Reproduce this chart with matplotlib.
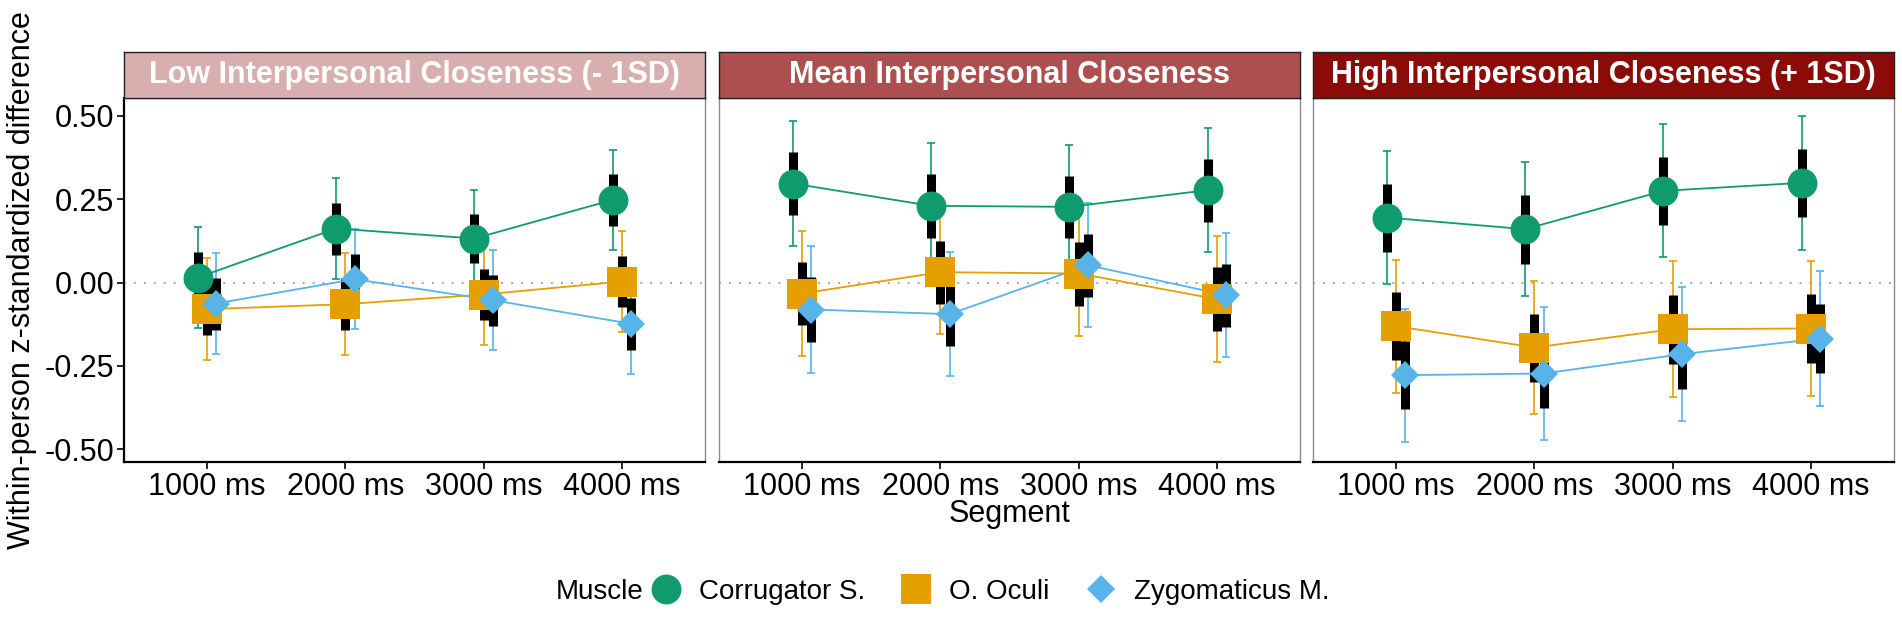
import matplotlib
matplotlib.use("Agg")
import matplotlib.pyplot as plt
from matplotlib.lines import Line2D
import numpy as np

plt.rcParams['font.family'] = ['Liberation Sans', 'DejaVu Sans']

segments = ["1000 ms", "2000 ms", "3000 ms", "4000 ms"]
panels = ["Low Interpersonal Closeness (- 1SD)",
          "Mean Interpersonal Closeness",
          "High Interpersonal Closeness (+ 1SD)"]
strip_colors = ["#d8aeae", "#ad4f4f", "#8b0b08"]

muscles = ["Corrugator S.", "O. Oculi", "Zygomaticus M."]
muscle_colors = ["#0f9b6e", "#e69f00", "#56b4e9"]
muscle_markers = ["o", "s", "D"]
marker_sizes = [21.5, 21.5, 14.5]

# estimates, rows = Corrugator, Oculi, Zygomaticus; cols = segments
est_low = [[0.015, 0.162, 0.132, 0.248],
           [-0.080, -0.065, -0.036, 0.003],
           [-0.063, 0.010, -0.053, -0.124]]
est_mean = [[0.297, 0.230, 0.227, 0.277],
            [-0.033, 0.031, 0.027, -0.050],
            [-0.081, -0.095, 0.052, -0.038]]
est_high = [[0.195, 0.160, 0.275, 0.299],
            [-0.131, -0.195, -0.140, -0.138],
            [-0.278, -0.273, -0.215, -0.168]]

# standard errors (black bars = +-1 SE, coloured bars = 95% CI)
se_low = [[0.077, 0.078, 0.074, 0.077],
          [0.078, 0.078, 0.077, 0.077],
          [0.078, 0.077, 0.077, 0.077]]
se_mean = [[0.095, 0.096, 0.094, 0.095],
           [0.095, 0.095, 0.096, 0.096],
           [0.097, 0.095, 0.095, 0.095]]
se_high = [[0.102, 0.103, 0.102, 0.103],
           [0.102, 0.102, 0.104, 0.103],
           [0.102, 0.102, 0.103, 0.103]]

estimates = [est_low, est_mean, est_high]
errors = [se_low, se_mean, se_high]

dodge = [-0.0667, 0.0, 0.0667]

fig = plt.figure(figsize=(19.02, 6.19), dpi=100)
W, H = 1902.0, 619.0
lefts = [124, 719, 1313]
pw = 581
ptop, pbot = 98, 462
strip_top = 52
fs = 22

x = np.arange(1, len(segments) + 1)

for p in range(3):
    ax = fig.add_axes([lefts[p] / W, 1 - pbot / H, pw / W, (pbot - ptop) / H])
    ax.axhline(0, color="#9a9a9a", lw=1.3, linestyle=(0, (1, 4.5)), zorder=1)
    for m in range(3):
        xs = x + dodge[m]
        est = np.array(estimates[p][m])
        se = np.array(errors[p][m])
        col = muscle_colors[m]
        ax.errorbar(xs, est, yerr=1.96 * se, fmt="none", ecolor=col,
                    elinewidth=1.2, capsize=3, capthick=1.2, zorder=2)
        ax.vlines(xs, est - se, est + se, color="black", lw=6.5, zorder=3)
        ax.plot(xs, est, color=col, lw=1.3, zorder=4)
        ax.plot(xs, est, linestyle="none", marker=muscle_markers[m],
                markersize=marker_sizes[m], color=col, markeredgewidth=0, zorder=5)
    ax.set_xlim(0.4, 4.6)
    ax.set_ylim(-0.5385, 0.5535)
    ax.set_xticks(x)
    ax.set_xticklabels(segments, fontsize=fs)
    ax.set_yticks([-0.5, -0.25, 0, 0.25, 0.5])
    ax.tick_params(axis="both", length=5, width=1.2, color="black", pad=2)
    for side in ["top", "right", "left"]:
        ax.spines[side].set_color("#8c8c8c")
        ax.spines[side].set_linewidth(1.0)
    ax.spines["bottom"].set_color("black")
    ax.spines["bottom"].set_linewidth(1.6)
    if p == 0:
        ax.set_yticklabels(["-0.50", "-0.25", "0.00", "0.25", "0.50"], fontsize=fs)
        ax.spines["left"].set_color("black")
        ax.spines["left"].set_linewidth(1.6)
    else:
        ax.set_yticklabels([])
        ax.tick_params(axis="y", length=0)

    sax = fig.add_axes([lefts[p] / W, 1 - ptop / H, pw / W, (ptop - strip_top) / H])
    sax.set_facecolor(strip_colors[p])
    sax.set_xticks([])
    sax.set_yticks([])
    for s in sax.spines.values():
        s.set_color("#222222")
        s.set_linewidth(1.0)
    sax.text(0.5, 0.5, panels[p], color="white", fontsize=fs, fontweight="bold",
             ha="center", va="center", transform=sax.transAxes)

fig.text(22 / W, 1 - 280 / H, "Within-person z-standardized difference",
         rotation=90, ha="center", va="center", fontsize=fs)
fig.text(1010 / W, 1 - 514 / H, "Segment", ha="center", va="center", fontsize=fs)

handles = [Line2D([], [], linestyle="none", marker=muscle_markers[m],
                  markersize=marker_sizes[m], color=muscle_colors[m], markeredgewidth=0)
           for m in range(3)]
fig.text(644 / W, 1 - 592 / H, "Muscle", ha="right", va="center", fontsize=20)
fig.legend(handles, muscles, loc="center left", bbox_to_anchor=(652 / W, 1 - 592 / H),
           ncol=3, frameon=False, fontsize=20, handlelength=1.0, handletextpad=0.68,
           columnspacing=1.35, borderpad=0, borderaxespad=0)

fig.savefig("out.png", dpi=100)
